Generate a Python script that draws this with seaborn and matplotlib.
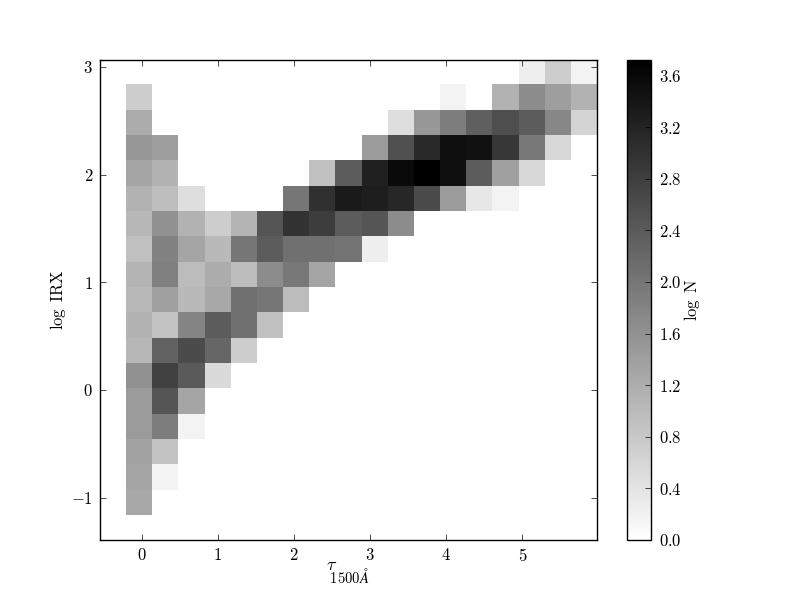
import numpy as np
import pandas as pd
import matplotlib
matplotlib.use('Agg')
import matplotlib.pyplot as plt
import seaborn as sns

n = np.nan
# log N per cell, top row of the image first
log_n = [
    [n, n, n, n, n, n, n, n, n, n, n, n, n, n, n, 0.25, 0.74, 0.18],
    [0.74, n, n, n, n, n, n, n, n, n, n, n, 0.18, n, 1.12, 1.68, 1.42, 1.12],
    [1.21, n, n, n, n, n, n, n, n, n, 0.48, 1.50, 1.90, 2.33, 2.58, 2.38, 1.75, 0.63],
    [1.50, 1.42, n, n, n, n, n, n, n, 1.46, 2.55, 3.11, 3.50, 3.47, 2.92, 1.97, 0.58, n],
    [1.31, 1.12, n, n, n, n, n, 0.92, 2.38, 3.25, 3.57, 3.72, 3.50, 2.38, 1.39, 0.58, n, n],
    [1.12, 0.95, 0.48, n, n, n, 2.00, 3.02, 3.34, 3.28, 3.14, 2.63, 1.46, 0.36, 0.18, n, n, n],
    [1.06, 1.60, 1.12, 0.74, 1.09, 2.48, 2.99, 2.82, 2.38, 2.48, 1.68, n, n, n, n, n, n, n],
    [0.92, 1.82, 1.31, 1.02, 2.00, 2.38, 2.09, 2.09, 2.04, 0.25, n, n, n, n, n, n, n, n],
    [1.09, 1.85, 0.98, 1.21, 0.98, 1.68, 1.97, 1.31, n, n, n, n, n, n, n, n, n, n],
    [1.02, 1.39, 1.02, 1.27, 2.09, 2.00, 0.98, n, n, n, n, n, n, n, n, n, n, n],
    [1.12, 0.88, 1.79, 2.38, 2.09, 0.92, n, n, n, n, n, n, n, n, n, n, n, n],
    [1.06, 2.29, 2.63, 2.23, 0.73, n, n, n, n, n, n, n, n, n, n, n, n, n],
    [1.60, 2.77, 2.41, 0.54, n, n, n, n, n, n, n, n, n, n, n, n, n, n],
    [1.46, 2.48, 1.31, n, n, n, n, n, n, n, n, n, n, n, n, n, n, n],
    [1.46, 1.90, 0.18, n, n, n, n, n, n, n, n, n, n, n, n, n, n, n],
    [1.34, 0.86, n, n, n, n, n, n, n, n, n, n, n, n, n, n, n, n],
    [1.31, 0.18, n, n, n, n, n, n, n, n, n, n, n, n, n, n, n, n],
    [1.27, n, n, n, n, n, n, n, n, n, n, n, n, n, n, n, n, n],
]
x_ticks = [0, 1, 2, 3, 4, 5]
y_ticks = [-1, 0, 1, 2, 3]
cbar_ticks = [0.0, 0.4, 0.8, 1.2, 1.6, 2.0, 2.4, 2.8, 3.2, 3.6]

# bin edges of the 2d histogram, used to map data units to heatmap cells
x_left, x_step = -0.203, 0.3436
y_bottom, y_step = -1.16, 0.2352
xlim = (-0.545, 5.98)
ylim = (-1.393, 3.064)

plt.rcParams['font.family'] = ['cmr10', 'DejaVu Serif']
plt.rcParams['mathtext.fontset'] = 'cm'
plt.rcParams['axes.formatter.use_mathtext'] = True
plt.rcParams['axes.unicode_minus'] = False


def cell_x(v):
    return (np.asarray(v, dtype=float) - x_left) / x_step


def cell_y(v):
    return len(log_n) - (np.asarray(v, dtype=float) - y_bottom) / y_step


fig = plt.figure(figsize=(8, 6), dpi=100)
ax = fig.add_axes([0.125, 0.1, 0.62125, 0.8])
cax = fig.add_axes([0.78375, 0.1, 0.03, 0.8])

df = pd.DataFrame(log_n)
sns.heatmap(df, cmap='gray_r', vmin=0, vmax=3.72, ax=ax, cbar_ax=cax,
            xticklabels=False, yticklabels=False, rasterized=True)

ax.set_xlim(cell_x(xlim[0]), cell_x(xlim[1]))
ax.set_ylim(cell_y(ylim[0]), cell_y(ylim[1]))
ax.set_xticks(cell_x(x_ticks))
ax.set_xticklabels(['$%d$' % v for v in x_ticks], fontsize=12)
ax.set_yticks(cell_y(y_ticks))
ax.set_yticklabels(['$%d$' % v for v in y_ticks], fontsize=12)
ax.tick_params(direction='in', length=4, width=0.5, top=True, right=True,
               bottom=True, left=True, pad=5)
for s in ax.spines.values():
    s.set_visible(True)
    s.set_linewidth(1)
# tau and its low subscript sit apart in the original label
fig.text(0.4075, 0.0575, r'$\tau$', fontsize=13, ha='left', va='center')
fig.text(0.411, 0.0375, r'$_{1500\AA}$', fontsize=15, ha='left', va='center')
ax.set_ylabel(r'$\log\ \mathrm{IRX}$', fontsize=12, labelpad=2)

cbar = ax.collections[0].colorbar
cbar.outline.set_visible(True)
cbar.outline.set_linewidth(1)
cbar.outline.set_edgecolor('black')
cbar.set_ticks(cbar_ticks)
cbar.set_ticklabels(['$%.1f$' % v for v in cbar_ticks], fontsize=12)
cax.tick_params(direction='in', length=4, width=0.5, right=True, left=False, pad=6)
cbar.set_label(r'$\log\ \mathrm{N}$', fontsize=12, labelpad=0)

fig.savefig('out.png', dpi=100)
